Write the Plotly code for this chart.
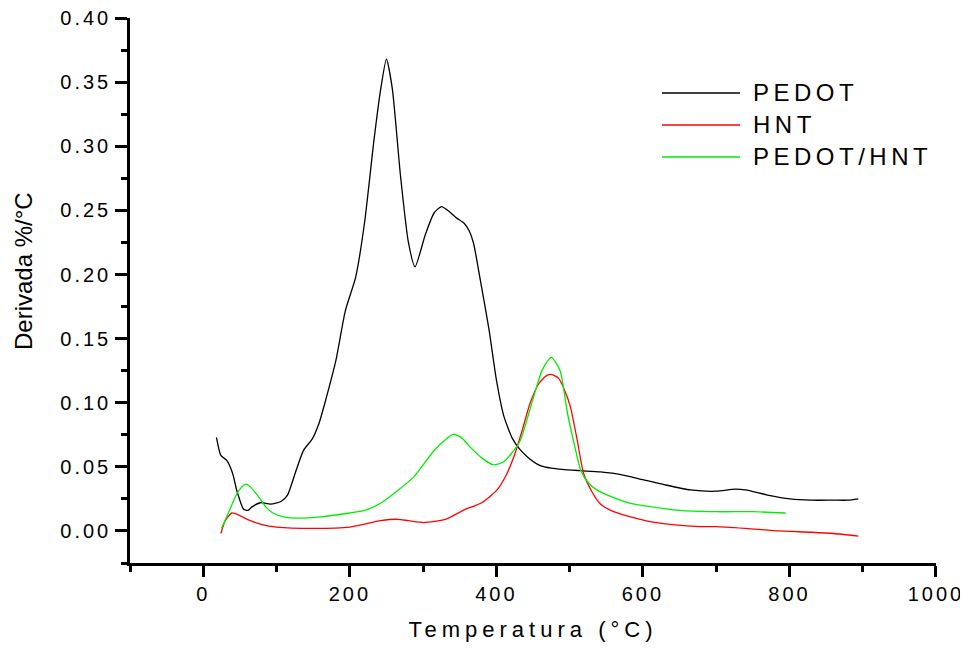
import plotly.graph_objects as go

# PEDOT (black)
pedot_T = [18, 24, 32, 40, 46, 55, 61, 67, 78, 92, 106, 115, 126, 137, 149, 158, 167, 181, 194, 208, 220,
           233, 242, 250, 258, 269, 280, 289, 303, 315, 325, 336, 346, 356, 363, 369, 378, 390, 400, 410,
           422, 433, 446, 460, 475, 490, 515, 542, 570, 600, 630, 665, 700, 726, 740, 770, 801, 830, 860, 880, 894]
pedot_v = [0.073, 0.059, 0.055, 0.045, 0.031, 0.017, 0.016, 0.019, 0.022, 0.021, 0.023, 0.028, 0.046, 0.063,
           0.072, 0.084, 0.102, 0.133, 0.172, 0.198, 0.240, 0.305, 0.344, 0.368, 0.345, 0.278, 0.225, 0.206,
           0.231, 0.248, 0.253, 0.249, 0.244, 0.240, 0.234, 0.224, 0.196, 0.157, 0.118, 0.090, 0.072, 0.063,
           0.056, 0.051, 0.049, 0.048, 0.047, 0.046, 0.044, 0.040, 0.036, 0.032, 0.031, 0.0327, 0.032, 0.028,
           0.025, 0.024, 0.024, 0.024, 0.025]

# HNT (red)
hnt_T = [24, 30, 39, 50, 60, 80, 100, 150, 200, 242, 265, 280, 301, 330, 356, 380, 401, 413, 424, 435,
         446, 458, 468, 476, 485, 493, 501, 510, 519, 530, 542, 560, 583, 610, 640, 678, 700, 740, 787, 830,
         860, 894]
hnt_v = [-0.002, 0.008, 0.014, 0.012, 0.009, 0.005, 0.003, 0.002, 0.003, 0.008, 0.0091, 0.008, 0.0065,
         0.009, 0.0164, 0.022, 0.032, 0.043, 0.058, 0.078, 0.0996, 0.115, 0.121, 0.122, 0.119, 0.110, 0.097,
         0.072, 0.045, 0.031, 0.021, 0.015, 0.011, 0.0073, 0.005, 0.0034, 0.0034, 0.002, 0.0, -0.001,
         -0.002, -0.004]

# PEDOT/HNT (green)
ph_T = [25, 35, 45, 52, 58, 65, 75, 85, 95, 110, 130, 160, 200, 220, 242, 262, 287, 314, 330, 341, 352,
        365, 380, 396, 410, 420, 433, 451, 463, 475, 487, 497, 507, 515, 525, 537, 560, 583, 610, 650, 700,
        750, 795]
ph_v = [0.002, 0.015, 0.028, 0.034, 0.0366, 0.034, 0.027, 0.019, 0.014, 0.011, 0.010, 0.011, 0.014, 0.016,
        0.0216, 0.030, 0.042, 0.062, 0.071, 0.0754, 0.073, 0.065, 0.057, 0.0515, 0.054, 0.060, 0.071, 0.105,
        0.126, 0.1354, 0.125, 0.092, 0.066, 0.0476, 0.038, 0.032, 0.026, 0.0216, 0.019, 0.016, 0.015, 0.015,
        0.014]

x_ticks = [0, 200, 400, 600, 800, 1000]
y_ticks = [0.00, 0.05, 0.10, 0.15, 0.20, 0.25, 0.30, 0.35, 0.40]

series = [("PEDOT", pedot_T, pedot_v, "#000000"),
          ("HNT", hnt_T, hnt_v, "#ff0000"),
          ("PEDOT/HNT", ph_T, ph_v, "#00ee00")]

FONT = "Liberation Sans, Arial, sans-serif"


def spaced(s, ls="2px"):
    return f'<span style="letter-spacing:{ls}">{s}</span>'


fig = go.Figure()
for name, xs, ys, col in series:
    fig.add_trace(go.Scatter(x=xs, y=ys, mode="lines", name=name,
                             line=dict(color=col, width=1.3, shape="spline", smoothing=0.6),
                             showlegend=False))

# page offset compensation (body margin)
OFF_X = 8
OFF_Y = 8
PL, PR, PT, PB = 130 - OFF_X, 936 - OFF_X, 18 - OFF_Y, 563 - OFF_Y
W = PR - PL
H = PB - PT

# custom legend (long line samples like the original)
leg_rows = [93, 125, 157]
for (name, _, _, col), py in zip(series, leg_rows):
    yp = (PB - (py - OFF_Y)) / H
    fig.add_shape(type="line", xref="paper", yref="paper",
                  x0=(662 - OFF_X - PL) / W, x1=(740 - OFF_X - PL) / W, y0=yp, y1=yp,
                  line=dict(color=col, width=1.3))
    fig.add_annotation(xref="paper", yref="paper", x=(751 - OFF_X - PL) / W, y=yp,
                       xanchor="left", yanchor="middle", showarrow=False,
                       text=spaced(name, "4.5px"),
                       font=dict(family=FONT, size=24, color="#000000"))

# y-axis title placed like the original (slightly above plot centre)
fig.add_annotation(xref="paper", yref="paper", x=(23 - OFF_X - PL) / W, y=(PB - (271 - OFF_Y)) / H,
                   xanchor="center", yanchor="middle", showarrow=False, textangle=-90,
                   text="Derivada %/°C", font=dict(family=FONT, size=24, color="#000000"))

fig.update_layout(
    width=968, height=652,
    margin=dict(l=PL, r=968 - PR, t=PT, b=652 - PB, autoexpand=False),
    plot_bgcolor="#ffffff", paper_bgcolor="#ffffff",
    font=dict(family=FONT, color="#000000"),
    xaxis=dict(range=[-100, 1000.01], tickmode="array", tickvals=x_ticks,
               ticktext=[spaced(str(v), "3px") for v in x_ticks], ticklabeloverflow="allow",
               ticks="outside", ticklen=11, tickwidth=2.5, tickcolor="#000",
               minor=dict(ticks="outside", ticklen=6, tickwidth=2.5, tickcolor="#000", dtick=100, tick0=-100),
               showline=True, linecolor="#000", linewidth=2.5, showgrid=False, zeroline=False,
               tickfont=dict(size=20, family=FONT),
               title=dict(text=spaced("Temperatura (°C)", "5px"), font=dict(size=22, family=FONT), standoff=18)),
    yaxis=dict(range=[-0.025, 0.4001], tickmode="array", tickvals=y_ticks,
               ticktext=[spaced(f"{v:.2f}", "3px") for v in y_ticks], ticklabeloverflow="allow",
               ticks="outside", ticklen=12, tickwidth=2.5, tickcolor="#000",
               minor=dict(ticks="outside", ticklen=6, tickwidth=2.5, tickcolor="#000", dtick=0.025, tick0=0),
               showline=True, linecolor="#000", linewidth=2.5, showgrid=False, zeroline=False,
               tickfont=dict(size=20, family=FONT)),
)

fig.write_html("out.html")
